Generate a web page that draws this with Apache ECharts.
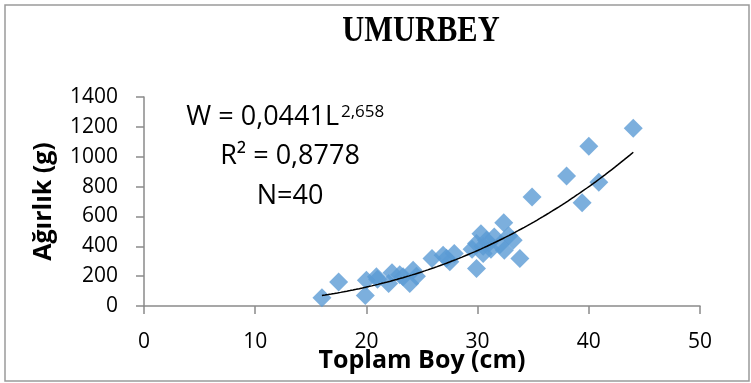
<!DOCTYPE html>
<html>
<head>
<meta charset="utf-8">
<script src="https://cdn.jsdelivr.net/npm/echarts@6/dist/echarts.min.js"></script>
<style>
  html, body { margin: 0; padding: 0; background: #fff; }
  #chart { width: 751px; height: 383px; }
</style>
</head>
<body>
<div id="chart"></div>
<script>
// Total length (cm) of each fish
const lengths = [
  16.0, 17.5, 19.9, 20.0, 20.9, 21.0, 22.0, 22.3, 23.0, 23.3,
  23.9, 24.2, 24.5, 25.9, 26.9, 27.2, 27.5, 27.9, 29.5, 29.9,
  29.9, 30.3, 30.5, 30.5, 30.8, 31.0, 31.2, 31.5, 32.0, 32.4,
  32.35, 32.8, 33.2, 33.8, 34.9, 38.0, 39.4, 40.0, 40.9, 44.0
];
// Weight (g) of each fish, same order
const weights = [
  55, 160, 70, 173, 196, 180, 151, 222, 210, 196,
  151, 240, 200, 318, 340, 320, 296, 351, 380, 251,
  418, 484, 351, 400, 440, 420, 380, 462, 410, 373,
  558, 470, 440, 318, 730, 871, 691, 1070, 829, 1190
];
// Power-law fit W = a * L^b
const fitA = 0.0441;
const fitB = 2.658;
const fitR2 = '0,8778';
const fitN = 40;
const xTicks = { min: 0, max: 50, interval: 10 };
const yTicks = { min: 0, max: 1400, interval: 200 };

const points = lengths.map((L, i) => [L, weights[i]]);
const lMin = Math.min(...lengths), lMax = Math.max(...lengths);
const curve = [];
for (let k = 0; k <= 100; k++) {
  const L = lMin + (lMax - lMin) * k / 100;
  curve.push([L, fitA * Math.pow(L, fitB)]);
}

const axisGray = '#8a8a8a';
const sans = '"Open Sans", Lato, sans-serif';
const comma = v => String(v).replace('.', ',');

const chart = echarts.init(document.getElementById('chart'));
chart.setOption({
  animation: false,
  grid: { left: 144, right: 51, top: 97, bottom: 77, containLabel: false, outerBoundsMode: 'none' },
  xAxis: {
    type: 'value', min: xTicks.min, max: xTicks.max, interval: xTicks.interval,
    name: 'Toplam Boy (cm)', nameLocation: 'middle', nameGap: 42, nameMoveOverlap: false,
    nameTextStyle: { fontFamily: sans, fontWeight: 'bold', fontSize: 25, color: '#000' },
    axisLine: { lineStyle: { color: axisGray, width: 1.5 } },
    axisTick: { show: true, length: 8, lineStyle: { color: axisGray, width: 1.5 } },
    axisLabel: { margin: 26, fontFamily: sans, fontSize: 21, color: '#000', formatter: v => String(v) },
    splitLine: { show: false }
  },
  yAxis: {
    type: 'value', min: yTicks.min, max: yTicks.max, interval: yTicks.interval,
    name: 'Ağırlık (g)', nameLocation: 'middle', nameGap: 88, nameRotate: 90, nameMoveOverlap: false,
    nameTextStyle: { fontFamily: sans, fontWeight: 'bold', fontSize: 25, color: '#000' },
    axisLine: { show: true, lineStyle: { color: axisGray, width: 1.5 } },
    axisTick: { show: true, length: 8, lineStyle: { color: axisGray, width: 1.5 } },
    axisLabel: { margin: 26, fontFamily: sans, fontSize: 21, color: '#000', formatter: v => String(v) },
    splitLine: { show: false }
  },
  series: [
    {
      type: 'scatter', data: points, symbol: 'diamond', symbolSize: 19,
      itemStyle: { color: '#5B9BD5' }, z: 2
    },
    {
      type: 'line', data: curve, showSymbol: false, smooth: false,
      lineStyle: { color: '#000', width: 1.5 }, z: 3
    }
  ],
  graphic: [
    {
      type: 'rect', shape: { x: 5, y: 5, width: 744, height: 376 },
      style: { fill: 'none', stroke: '#9a9a9a', lineWidth: 1.5 }, silent: true
    },
    {
      type: 'text', x: 421, y: 32, scaleX: 0.87,
      style: {
        text: 'UMURBEY', fontFamily: '"Liberation Serif", "DejaVu Serif", serif',
        fontWeight: 'bold', fontSize: 35, fill: '#000', align: 'center', verticalAlign: 'middle'
      }
    },
    {
      type: 'text', x: 339, y: 117,
      style: { text: 'W = ' + comma(fitA) + 'L', fontFamily: sans, fontSize: 27, fill: '#000', align: 'right', verticalAlign: 'middle' }
    },
    {
      type: 'text', x: 341, y: 112,
      style: { text: comma(fitB), fontFamily: sans, fontSize: 17, fill: '#000', align: 'left', verticalAlign: 'middle' }
    },
    {
      type: 'text', x: 290, y: 156,
      style: { text: 'R² = ' + fitR2, fontFamily: sans, fontSize: 27, fill: '#000', align: 'center', verticalAlign: 'middle' }
    },
    {
      type: 'text', x: 290, y: 196,
      style: { text: 'N=' + fitN, fontFamily: sans, fontSize: 27, fill: '#000', align: 'center', verticalAlign: 'middle' }
    }
  ]
});
</script>
</body>
</html>
